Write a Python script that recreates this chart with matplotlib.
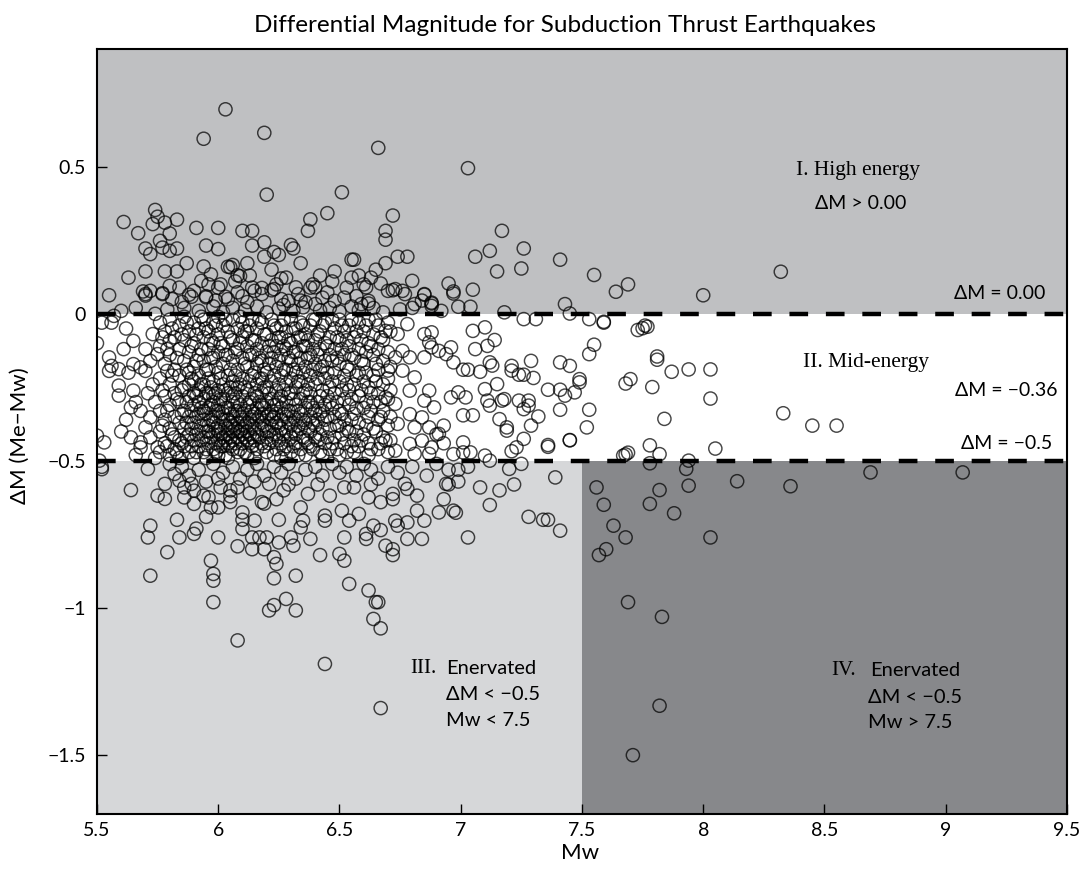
import numpy as np
import matplotlib
matplotlib.use("Agg")
import matplotlib.pyplot as plt

plt.rcParams['font.family'] = ['Lato', 'DejaVu Sans']

# ---- data (Mw, dM) ----
pts_high = [
    (6.03, 0.695), (5.94, 0.595), (6.19, 0.615), (6.66, 0.564), (7.03, 0.495), (6.20, 0.405), (6.51, 0.413),
    (5.61, 0.312), (5.74, 0.353), (5.75, 0.33), (5.73, 0.305), (5.78, 0.31), (5.83, 0.32), (5.67, 0.274),
    (5.91, 0.292), (6.00, 0.292), (6.10, 0.282), (6.14, 0.282), (6.19, 0.243), (5.95, 0.232), (6.14, 0.232),
    (5.76, 0.248), (5.80, 0.273), (5.77, 0.225), (5.70, 0.222), (5.72, 0.203), (5.80, 0.214), (5.83, 0.222),
    (6.38, 0.321), (6.37, 0.282), (6.45, 0.342), (6.72, 0.334), (6.69, 0.282), (6.69, 0.252), (7.17, 0.282),
    (6.30, 0.234), (6.31, 0.222), (7.12, 0.214), (7.26, 0.222), (7.06, 0.194), (6.19, 0.194),
    (5.87, 0.172), (6.12, 0.172), (6.34, 0.172), (6.55, 0.184), (6.56, 0.184), (6.69, 0.172), (6.74, 0.194),
    (6.78, 0.194), (7.15, 0.144), (7.25, 0.154),
    (5.63, 0.123), (5.70, 0.144), (5.78, 0.144), (5.83, 0.144), (5.94, 0.161), (6.05, 0.158), (6.06, 0.166),
    (6.08, 0.131), (6.09, 0.128), (5.97, 0.134), (5.93, 0.112), (6.48, 0.144), (6.28, 0.123), (6.55, 0.123),
    (6.63, 0.123), (6.67, 0.103), (6.80, 0.112), (6.95, 0.103), (6.97, 0.076), (7.05, 0.082), (6.39, 0.10),
    (6.40, 0.09), (5.96, 0.10), (6.01, 0.10),
    (5.55, 0.063), (5.69, 0.076), (5.70, 0.062), (5.88, 0.065), (5.89, 0.058), (5.77, 0.07), (5.80, 0.095),
    (5.95, 0.06), (6.03, 0.058), (6.10, 0.06), (6.15, 0.078), (6.18, 0.088), (6.22, 0.08), (6.36, 0.04),
    (6.52, 0.055), (6.62, 0.035), (6.72, 0.08), (6.76, 0.078), (6.85, 0.065), (6.88, 0.035), (6.84, 0.045),
    (6.99, 0.024), (7.04, 0.024), (6.80, 0.02), (7.18, 0.005), (6.88, 0.038), (6.97, 0.069),
    (7.41, 0.184), (7.55, 0.132), (7.64, 0.075), (7.69, 0.10), (8.00, 0.063), (8.32, 0.143), (7.43, 0.033),
    (7.45, 0.001),
    (5.70, 0.067), (5.72, 0.078), (5.77, 0.067), (5.81, 0.050), (5.84, 0.089), (5.90, 0.078), (5.95, 0.056),
    (6.00, 0.089), (6.04, 0.050), (6.08, 0.073), (6.14, 0.089), (6.18, 0.067), (6.23, 0.084), (6.29, 0.044),
    (6.33, 0.067), (6.38, 0.089), (6.40, 0.033), (6.45, 0.073), (6.48, 0.044), (6.53, 0.089), (6.59, 0.033),
    (6.62, 0.044), (6.70, 0.078), (6.73, 0.084), (6.77, 0.067), (6.81, 0.033), (6.85, 0.067), (6.88, 0.027),
    (5.60, 0.01), (5.66, 0.02), (5.74, 0.0), (5.79, 0.015), (5.86, 0.02), (5.92, 0.01), (5.98, 0.025),
    (6.02, 0.005), (6.06, 0.02), (6.11, 0.012), (6.16, 0.025), (6.20, 0.005), (6.25, 0.018), (6.27, 0.03),
    (6.31, 0.01), (6.35, 0.022), (6.42, 0.012), (6.46, 0.02), (6.50, 0.008), (6.55, 0.025), (6.58, 0.012),
    (6.64, 0.02), (6.68, 0.005), (6.75, 0.015), (6.92, 0.01), (6.12, 0.04), (6.26, 0.05), (5.99, 0.045),
    (5.85, 0.04), (6.43, 0.055), (6.57, 0.06), (6.34, 0.045),
    (6.00, 0.22), (6.04, 0.16), (6.07, 0.11), (6.13, 0.13), (6.22, 0.15), (6.24, 0.10), (6.26, 0.12),
    (6.32, 0.09), (6.42, 0.13), (6.47, 0.11), (6.58, 0.13), (6.60, 0.10), (6.65, 0.15), (6.61, 0.09),
    (6.23, 0.21), (6.25, 0.20),
]

pts_mid_edge = [
    (5.52, -0.03), (5.57, -0.007), (5.50, -0.10), (5.55, -0.148), (5.56, -0.177), (5.59, -0.188),
    (5.55, -0.194), (5.61, -0.12), (5.65, -0.092), (5.70, -0.12), (5.65, -0.171), (5.68, -0.182),
    (5.70, -0.194), (5.59, -0.244), (5.59, -0.278), (5.65, -0.261), (5.64, -0.318), (5.68, -0.33),
    (5.50, -0.414), (5.53, -0.437), (5.51, -0.499), (5.64, -0.42), (5.68, -0.437), (5.68, -0.454),
    (5.75, -0.454), (5.70, -0.386), (5.72, -0.352), (5.79, -0.194), (5.75, -0.137), (5.80, -0.092),
    (5.73, -0.069), (5.62, -0.05), (5.66, -0.30), (5.71, -0.27), (5.73, -0.24), (5.72, -0.16),
    (5.62, -0.36), (5.60, -0.40), (5.66, -0.48), (5.72, -0.42), (5.74, -0.30), (5.74, -0.49),
    (5.56, -0.03), (5.63, -0.20),
]

mid_columns = [
    (5.76, [-0.03, -0.11, -0.22, -0.33, -0.40, -0.47]),
    (5.78, [-0.06, -0.17, -0.28, -0.36, -0.44]),
    (5.80, [-0.02, -0.14, -0.24, -0.31, -0.39, -0.48]),
    (5.82, [-0.08, -0.19, -0.27, -0.35, -0.42, -0.46]),
    (5.84, [-0.04, -0.12, -0.21, -0.30, -0.37, -0.43, -0.49]),
    (5.86, [-0.01, -0.09, -0.16, -0.25, -0.33, -0.39, -0.45]),
    (5.88, [-0.06, -0.13, -0.20, -0.28, -0.35, -0.41, -0.47, -0.24]),
    (5.90, [-0.03, -0.10, -0.18, -0.23, -0.31, -0.37, -0.43, -0.49, -0.27]),
    (5.92, [-0.05, -0.14, -0.21, -0.26, -0.34, -0.40, -0.45, -0.30]),
    (5.94, [-0.02, -0.08, -0.16, -0.24, -0.29, -0.36, -0.42, -0.47, -0.33]),
    (5.96, [-0.06, -0.12, -0.19, -0.27, -0.32, -0.38, -0.44, -0.40, -0.22]),
    (5.98, [-0.03, -0.10, -0.15, -0.23, -0.30, -0.35, -0.41, -0.46, -0.28, -0.37]),
    (6.00, [-0.01, -0.07, -0.13, -0.20, -0.26, -0.33, -0.38, -0.43, -0.48, -0.31, -0.40]),
    (6.02, [-0.04, -0.11, -0.17, -0.24, -0.29, -0.36, -0.42, -0.45, -0.34]),
    (6.04, [-0.06, -0.14, -0.21, -0.27, -0.32, -0.39, -0.44, -0.49, -0.36, -0.41]),
    (6.06, [-0.02, -0.09, -0.16, -0.23, -0.30, -0.35, -0.40, -0.46, -0.38, -0.28, -0.43]),
    (6.08, [-0.05, -0.12, -0.19, -0.25, -0.33, -0.37, -0.42, -0.47, -0.30, -0.40]),
    (6.10, [-0.03, -0.08, -0.15, -0.22, -0.28, -0.34, -0.39, -0.44, -0.36, -0.41]),
    (6.12, [-0.06, -0.11, -0.18, -0.26, -0.31, -0.37, -0.43, -0.48, -0.40]),
    (6.14, [-0.02, -0.09, -0.14, -0.21, -0.29, -0.35, -0.38, -0.45, -0.33, -0.42]),
    (6.16, [-0.05, -0.12, -0.17, -0.24, -0.32, -0.36, -0.41, -0.46, -0.28]),
    (6.18, [-0.03, -0.10, -0.16, -0.22, -0.27, -0.34, -0.39, -0.44, -0.37, -0.31]),
    (6.20, [-0.07, -0.13, -0.20, -0.25, -0.30, -0.35, -0.42, -0.47, -0.40]),
    (6.22, [-0.02, -0.09, -0.15, -0.23, -0.29, -0.33, -0.38, -0.43, -0.36]),
    (6.24, [-0.05, -0.11, -0.18, -0.26, -0.31, -0.37, -0.41, -0.46, -0.34]),
    (6.26, [-0.04, -0.08, -0.14, -0.21, -0.28, -0.32, -0.39, -0.44, -0.36, -0.49]),
    (6.28, [-0.06, -0.12, -0.19, -0.24, -0.30, -0.35, -0.40, -0.45]),
    (6.30, [-0.02, -0.10, -0.16, -0.22, -0.27, -0.33, -0.38, -0.42, -0.47]),
    (6.32, [-0.05, -0.13, -0.20, -0.25, -0.31, -0.36, -0.41, -0.44]),
    (6.34, [-0.03, -0.08, -0.15, -0.23, -0.29, -0.34, -0.39, -0.46]),
    (6.36, [-0.07, -0.11, -0.18, -0.26, -0.32, -0.37, -0.43, -0.48]),
    (6.38, [-0.04, -0.14, -0.21, -0.27, -0.30, -0.35, -0.40, -0.45]),
    (6.40, [-0.02, -0.09, -0.17, -0.24, -0.33, -0.38, -0.42]),
    (6.42, [-0.06, -0.12, -0.19, -0.28, -0.34, -0.41, -0.47]),
    (6.44, [-0.03, -0.10, -0.16, -0.22, -0.31, -0.36, -0.44]),
    (6.46, [-0.08, -0.14, -0.25, -0.30, -0.39, -0.46]),
    (6.48, [-0.05, -0.12, -0.20, -0.27, -0.35, -0.42]),
    (6.50, [-0.02, -0.09, -0.17, -0.23, -0.33, -0.38, -0.48]),
    (6.52, [-0.06, -0.14, -0.21, -0.29, -0.36, -0.44]),
    (6.54, [-0.04, -0.11, -0.19, -0.26, -0.31, -0.40]),
    (6.56, [-0.08, -0.15, -0.24, -0.34, -0.43, -0.47]),
    (6.58, [-0.03, -0.12, -0.20, -0.28, -0.37, -0.45]),
    (6.60, [-0.06, -0.17, -0.23, -0.32, -0.41]),
    (6.62, [-0.02, -0.10, -0.25, -0.35, -0.44, -0.48]),
    (6.64, [-0.07, -0.14, -0.21, -0.30, -0.39]),
    (6.66, [-0.04, -0.12, -0.19, -0.27, -0.36, -0.46]),
    (6.68, [-0.09, -0.16, -0.24, -0.33, -0.42]),
    (6.70, [-0.03, -0.13, -0.22, -0.29, -0.38, -0.47]),
]

# second pass over the dense cluster, between the columns above
mid_columns_b = [
    (5.77, [-0.08, -0.26, -0.38]),
    (5.79, [-0.12, -0.33, -0.45]),
    (5.81, [-0.05, -0.21, -0.41]),
    (5.83, [-0.15, -0.29, -0.47]),
    (5.85, [-0.07, -0.26, -0.34, -0.44]),
    (5.87, [-0.03, -0.19, -0.30, -0.37, -0.42]),
    (5.89, [-0.11, -0.22, -0.33, -0.39, -0.45]),
    (5.91, [-0.07, -0.16, -0.28, -0.35, -0.41, -0.47]),
    (5.93, [-0.01, -0.12, -0.24, -0.32, -0.38, -0.43]),
    (5.95, [-0.05, -0.19, -0.27, -0.34, -0.40, -0.46, -0.49]),
    (5.97, [-0.09, -0.15, -0.25, -0.31, -0.36, -0.42]),
    (5.99, [-0.04, -0.18, -0.27, -0.33, -0.39, -0.44, -0.47]),
    (6.01, [-0.10, -0.22, -0.29, -0.35, -0.41, -0.45]),
    (6.03, [-0.02, -0.14, -0.26, -0.32, -0.38, -0.43, -0.48]),
    (6.05, [-0.08, -0.19, -0.25, -0.34, -0.37, -0.42, -0.45]),
    (6.07, [-0.13, -0.21, -0.27, -0.33, -0.39, -0.44]),
    (6.09, [-0.01, -0.10, -0.24, -0.31, -0.35, -0.40, -0.46]),
    (6.11, [-0.06, -0.17, -0.25, -0.33, -0.38, -0.42, -0.47]),
    (6.13, [-0.04, -0.14, -0.23, -0.30, -0.36, -0.41, -0.44]),
    (6.15, [-0.09, -0.20, -0.27, -0.34, -0.39, -0.43, -0.49]),
    (6.17, [-0.02, -0.15, -0.22, -0.30, -0.35, -0.42]),
    (6.19, [-0.07, -0.19, -0.25, -0.32, -0.38, -0.45]),
    (6.21, [-0.11, -0.17, -0.27, -0.34, -0.40, -0.44]),
    (6.23, [-0.04, -0.13, -0.21, -0.31, -0.35, -0.41, -0.48]),
    (6.25, [-0.08, -0.16, -0.24, -0.29, -0.38, -0.43]),
    (6.27, [-0.02, -0.11, -0.19, -0.26, -0.34, -0.41, -0.46]),
    (6.29, [-0.09, -0.15, -0.27, -0.33, -0.37, -0.43]),
    (6.31, [-0.05, -0.13, -0.19, -0.29, -0.35, -0.40, -0.45]),
    (6.33, [-0.08, -0.17, -0.23, -0.33, -0.38, -0.48]),
    (6.35, [-0.04, -0.11, -0.20, -0.27, -0.36, -0.42]),
    (6.37, [-0.09, -0.15, -0.24, -0.30, -0.39, -0.44]),
    (6.39, [-0.02, -0.12, -0.19, -0.32, -0.37, -0.46]),
    (6.41, [-0.07, -0.14, -0.22, -0.30, -0.36, -0.43]),
    (6.43, [-0.04, -0.18, -0.26, -0.33, -0.39, -0.48]),
    (6.45, [-0.11, -0.20, -0.28, -0.35, -0.42]),
    (6.47, [-0.02, -0.16, -0.23, -0.32, -0.44]),
    (6.49, [-0.08, -0.15, -0.30, -0.38, -0.46]),
    (6.51, [-0.04, -0.12, -0.26, -0.34, -0.41]),
    (6.53, [-0.09, -0.18, -0.24, -0.39, -0.47]),
    (6.55, [-0.02, -0.14, -0.29, -0.36, -0.45]),
    (6.57, [-0.06, -0.21, -0.32, -0.40]),
    (6.59, [-0.09, -0.16, -0.26, -0.43]),
    (6.61, [-0.04, -0.13, -0.20, -0.30, -0.38]),
    (6.63, [-0.11, -0.27, -0.33, -0.46]),
    (6.65, [-0.02, -0.17, -0.23, -0.40]),
    (6.67, [-0.08, -0.30, -0.35, -0.44]),
    (6.71, [-0.06, -0.18, -0.26, -0.35, -0.43]),
]

pts_mid_right = [
    (6.69, -0.058), (6.74, -0.069), (6.78, -0.035), (6.85, -0.069), (6.87, -0.097), (6.76, -0.126),
    (6.79, -0.148), (6.73, -0.148), (6.85, -0.148), (6.91, -0.126), (6.70, -0.193), (6.76, -0.193),
    (6.81, -0.216), (6.87, -0.261), (6.79, -0.261), (6.69, -0.284), (6.73, -0.306), (6.85, -0.295),
    (6.89, -0.318), (6.79, -0.341), (6.84, -0.352), (6.74, -0.374), (6.81, -0.386), (6.87, -0.386),
    (6.69, -0.431), (6.79, -0.442), (6.84, -0.431), (6.88, -0.454), (6.73, -0.465), (6.81, -0.476),
    (6.87, -0.476), (6.91, -0.408),
    (6.88, -0.063), (6.88, -0.114), (6.96, -0.114), (6.94, -0.137), (7.05, -0.058), (7.10, -0.046),
    (7.14, -0.089), (7.11, -0.109), (7.06, -0.12), (7.26, -0.018), (7.31, -0.018), (7.53, -0.018),
    (7.59, -0.03), (7.55, -0.105), (7.53, -0.137), (6.97, -0.165), (7.01, -0.19), (7.03, -0.19),
    (7.08, -0.197), (7.12, -0.165), (7.13, -0.176), (7.21, -0.177), (7.21, -0.193), (7.24, -0.207),
    (7.26, -0.207), (7.30, -0.218), (7.29, -0.16), (7.41, -0.165), (7.45, -0.177), (7.49, -0.222),
    (7.49, -0.233), (7.15, -0.239), (7.10, -0.256), (7.36, -0.258), (7.41, -0.258), (7.43, -0.278),
    (7.47, -0.267), (6.99, -0.267), (7.02, -0.284), (6.96, -0.284), (7.11, -0.295), (7.12, -0.312),
    (7.17, -0.295), (7.18, -0.29), (7.24, -0.295), (7.28, -0.295), (7.26, -0.324), (7.28, -0.312),
    (7.41, -0.326), (7.53, -0.326), (7.32, -0.349), (7.29, -0.38), (7.01, -0.345), (7.05, -0.345),
    (7.16, -0.358), (7.19, -0.386), (7.19, -0.397), (7.52, -0.386), (6.93, -0.38), (7.26, -0.425),
    (7.45, -0.429), (7.36, -0.446), (7.21, -0.467), (7.23, -0.454), (7.01, -0.437), (7.04, -0.471),
    (7.01, -0.471), (6.93, -0.44), (6.90, -0.41), (6.97, -0.477), (7.10, -0.482), (7.12, -0.499),
    (7.73, -0.055), (7.75, -0.049), (7.77, -0.044), (7.81, -0.145), (7.81, -0.156), (7.87, -0.197),
    (7.94, -0.189), (8.03, -0.189), (7.68, -0.237), (7.70, -0.222), (7.79, -0.249), (8.03, -0.288),
    (7.84, -0.357), (8.33, -0.338), (8.45, -0.38), (8.55, -0.38), (7.78, -0.447), (8.05, -0.458),
    (7.67, -0.482), (7.68, -0.478), (7.69, -0.472), (7.82, -0.477), (7.59, -0.027), (7.76, -0.04),
    (7.36, -0.452), (7.45, -0.43),
]

pts_low_left = [
    (5.52, -0.52), (5.52, -0.528), (5.64, -0.599), (5.71, -0.527), (5.75, -0.618), (5.78, -0.629),
    (5.78, -0.578), (5.82, -0.544), (5.86, -0.59), (5.89, -0.578), (5.84, -0.567), (5.86, -0.624),
    (5.90, -0.601), (5.90, -0.646), (5.94, -0.618), (5.96, -0.624), (5.97, -0.658), (6.00, -0.658),
    (6.05, -0.64), (6.05, -0.62), (6.05, -0.60), (6.01, -0.59), (5.72, -0.72), (5.71, -0.76),
    (5.83, -0.70), (5.84, -0.76), (5.90, -0.748), (5.91, -0.73), (5.95, -0.69), (6.00, -0.76),
    (5.79, -0.81), (5.72, -0.89), (5.97, -0.839), (5.98, -0.884), (5.98, -0.907), (5.98, -0.98),
    (6.08, -1.11), (6.10, -0.675), (6.10, -0.70), (6.10, -0.731), (6.08, -0.79), (6.14, -0.80),
    (6.15, -0.703), (6.14, -0.76), (6.17, -0.76), (6.19, -0.80), (6.20, -0.76), (6.18, -0.64),
    (6.19, -0.645), (6.21, -0.578), (6.24, -0.63), (6.25, -0.70), (6.25, -0.777), (6.23, -0.827),
    (6.24, -0.85), (6.23, -0.899), (6.32, -0.89), (6.31, -0.788), (6.30, -0.76), (6.34, -0.726),
    (6.35, -0.703), (6.34, -0.658), (6.37, -0.612), (6.38, -0.765), (6.21, -1.008), (6.23, -0.99),
    (6.28, -0.969), (6.32, -1.008), (6.44, -1.19), (6.42, -0.82), (6.44, -0.703), (6.44, -0.686),
    (6.46, -0.618), (6.50, -0.816), (6.52, -0.839), (6.52, -0.76), (6.51, -0.669), (6.54, -0.703),
    (6.58, -0.68), (6.54, -0.918), (6.56, -0.59), (6.62, -0.624), (6.61, -0.765), (6.61, -0.748),
    (6.64, -0.72), (6.67, -0.64), (6.67, -0.735), (6.69, -0.788), (6.72, -0.80), (6.72, -0.82),
    (6.62, -0.94), (6.65, -0.98), (6.66, -0.98), (6.64, -1.037), (6.67, -1.069), (6.67, -1.34),
    (6.73, -0.703), (6.74, -0.72), (6.78, -0.709), (6.78, -0.765), (6.84, -0.765), (6.82, -0.669),
    (6.85, -0.703), (6.91, -0.675), (6.97, -0.669), (6.98, -0.676), (6.93, -0.63), (6.94, -0.578),
    (7.03, -0.76), (6.77, -0.578), (6.78, -0.595), (6.82, -0.618), (6.72, -0.612), (6.72, -0.63),
    (7.20, -0.527), (7.25, -0.51), (6.95, -0.53), (6.99, -0.53), (7.03, -0.52), (6.95, -0.58),
    (6.99, -0.57), (7.08, -0.59), (7.39, -0.556), (7.36, -0.70), (7.41, -0.737),
    (7.28, -0.69), (7.34, -0.70), (7.16, -0.60), (7.12, -0.65), (7.22, -0.58),
    (5.85, -0.52), (5.92, -0.53), (5.98, -0.51), (6.02, -0.54), (6.06, -0.52), (6.09, -0.56),
    (6.12, -0.53), (6.16, -0.51), (6.19, -0.55), (6.23, -0.52), (6.26, -0.54), (6.29, -0.51),
    (6.32, -0.56), (6.36, -0.53), (6.40, -0.52), (6.43, -0.55), (6.47, -0.51), (6.50, -0.54),
    (6.53, -0.52), (6.57, -0.55), (6.60, -0.51), (6.63, -0.53), (6.66, -0.56), (6.70, -0.52),
    (6.74, -0.54), (6.80, -0.52), (6.86, -0.55), (6.90, -0.51), (5.95, -0.57), (6.08, -0.59),
    (6.13, -0.61), (6.27, -0.60), (6.29, -0.58), (6.41, -0.58), (6.52, -0.59), (6.63, -0.58),
    (5.80, -0.51), (5.88, -0.55), (6.00, -0.56), (6.15, -0.57),
]

pts_low_right = [
    (7.56, -0.59), (7.59, -0.649), (7.63, -0.72), (7.68, -0.76), (7.60, -0.80), (7.57, -0.82),
    (7.69, -0.98), (7.83, -1.03), (7.78, -0.508), (7.78, -0.646), (7.82, -0.599), (7.88, -0.678),
    (7.93, -0.527), (7.94, -0.584), (7.94, -0.499), (8.03, -0.76), (8.14, -0.569), (8.36, -0.586),
    (8.69, -0.539), (9.07, -0.539), (7.82, -1.332), (7.71, -1.50),
]

# region thresholds
dm_high = 0.0
dm_low = -0.5
mw_split = 7.5

xtick_vals = [5.5, 6, 6.5, 7, 7.5, 8, 8.5, 9, 9.5]
xtick_labels = ['5.5', '6', '6.5', '7', '7.5', '8', '8.5', '9', '9.5']
ytick_vals = [-1.5, -1, -0.5, 0, 0.5]
ytick_labels = ['\u22121.5', '\u22121', '\u22120.5', '0', '0.5']

# ---- collect points ----
pts = pts_high + pts_mid_edge + pts_mid_right + pts_low_left + pts_low_right
for mw_c, dms in mid_columns + mid_columns_b:
    pts += [(mw_c, d) for d in dms]
mw = np.array([p[0] for p in pts])
dm = np.array([p[1] for p in pts])

fig = plt.figure(figsize=(10.81, 8.72), dpi=100)
ax = fig.add_axes([0.0897, 0.0665, 0.8973, 0.8773])
xmin, xmax, ymin, ymax = 5.5, 9.5, -1.7, 0.9
ax.set_xlim(xmin, xmax)
ax.set_ylim(ymin, ymax)

# shaded regions
ax.fill_between([xmin, xmax], dm_high, ymax, color='#bfc0c2', lw=0, zorder=0)
ax.fill_between([xmin, mw_split], ymin, dm_low, color='#d6d7d9', lw=0, zorder=0)
ax.fill_between([mw_split, xmax], ymin, dm_low, color='#87888b', lw=0, zorder=0)

ax.scatter(mw, dm, s=90, facecolors='none', edgecolors='black', linewidths=1.05, alpha=0.72, zorder=3)

for yv in (dm_high, dm_low):
    ax.axhline(yv, color='black', lw=3.2, ls=(0, (4.2, 4.0)), zorder=4)

serif = 'Liberation Serif'
sans = ['Lato', 'DejaVu Sans']

ax.text(8.64, 0.486, 'I. High energy', family=serif, fontsize=15.5, ha='center', va='center')
ax.text(8.65, 0.374, '\u0394M > 0.00', family=sans, fontsize=14, ha='center', va='center')
ax.text(9.41, 0.068, '\u0394M = 0.00', family=sans, fontsize=14, ha='right', va='center')
ax.text(8.67, -0.166, 'II. Mid-energy', family=serif, fontsize=15.5, ha='center', va='center')
ax.text(9.46, -0.261, '\u0394M = \u22120.36', family=sans, fontsize=14, ha='right', va='center')
ax.text(9.44, -0.44, '\u0394M = \u22120.5', family=sans, fontsize=14, ha='right', va='center')

ax.text(6.79, -1.205, 'III.', family=serif, fontsize=15, ha='left', va='center')
ax.text(6.94, -1.205, 'Enervated', family=sans, fontsize=14.5, ha='left', va='center')
ax.text(6.94, -1.294, '\u0394M < \u22120.5', family=sans, fontsize=14.5, ha='left', va='center')
ax.text(6.94, -1.382, 'Mw < 7.5', family=sans, fontsize=14.5, ha='left', va='center')

ax.text(8.53, -1.212, 'IV.', family=serif, fontsize=15, ha='left', va='center')
ax.text(8.69, -1.212, 'Enervated', family=sans, fontsize=14.5, ha='left', va='center')
ax.text(8.68, -1.303, '\u0394M < \u22120.5', family=sans, fontsize=14.5, ha='left', va='center')
ax.text(8.68, -1.389, 'Mw > 7.5', family=sans, fontsize=14.5, ha='left', va='center')

ax.set_xticks(xtick_vals)
ax.set_xticklabels(xtick_labels)
ax.set_yticks(ytick_vals)
ax.set_yticklabels(ytick_labels)
ax.tick_params(direction='in', length=7, width=1, labelsize=14, top=False, right=False)
ax.tick_params(axis='x', pad=6)
ax.tick_params(axis='y', pad=8)
for sp in ax.spines.values():
    sp.set_linewidth(1.5)
    sp.set_zorder(5)

fig.text(0.523, 0.971, 'Differential Magnitude for Subduction Thrust Earthquakes',
         fontsize=17.5, ha='center', va='center')
fig.text(0.537, 0.022, 'Mw', fontsize=16, ha='center', va='center')
fig.text(0.018, 0.501, '\u0394M (Me\u2212Mw)', fontsize=16, ha='center', va='center', rotation=90)

fig.savefig('out.png', dpi=100)
